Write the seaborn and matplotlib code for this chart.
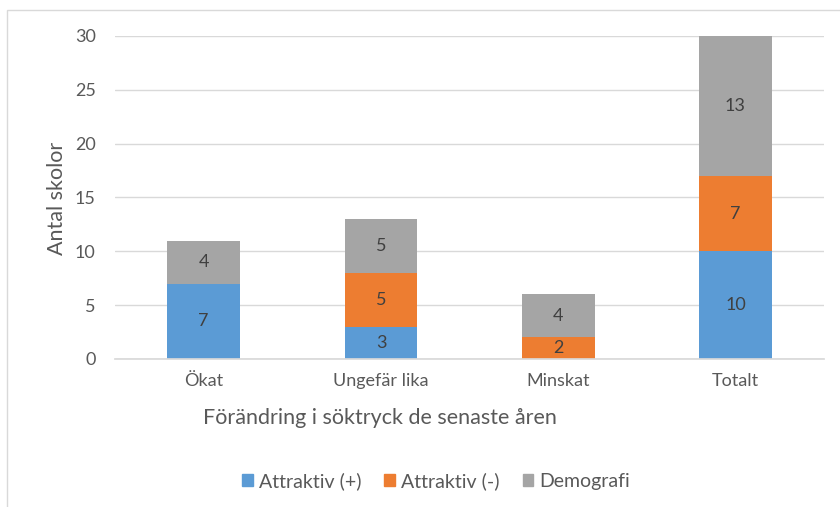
import numpy as np
import pandas as pd
import matplotlib.pyplot as plt
import seaborn as sns
from matplotlib.patches import Rectangle

# data
categories = ['Ökat', 'Ungefär lika', 'Minskat', 'Totalt']
attr_plus = [7, 3, 0, 10]
attr_minus = [0, 5, 2, 7]
demografi = [4, 5, 4, 13]
series_names = ['Attraktiv (+)', 'Attraktiv (-)', 'Demografi']
colors = ['#5B9BD5', '#ED7D31', '#A5A5A5']

sns.set_theme(style='white')
plt.rcParams['font.family'] = ['Lato', 'DejaVu Sans']
text_col = '#595959'

fig = plt.figure(figsize=(8.4, 5.07), dpi=100)
ax = fig.add_axes([0.137, 0.292, 0.844, 0.637])

# stacked via cumulative overlays
plus = np.array(attr_plus)
minus = np.array(attr_minus)
demo = np.array(demografi)
levels = [plus + minus + demo, plus + minus, plus]
for vals, col in zip(levels, colors[::-1]):
    df = pd.DataFrame({'cat': categories, 'val': vals})
    sns.barplot(data=df, x='cat', y='val', color=col, width=0.41,
                saturation=1, ax=ax, edgecolor='none')

# segment labels
bottoms = np.zeros(len(categories))
for vals in [plus, minus, demo]:
    for i, v in enumerate(vals):
        if v > 0:
            ax.text(i, bottoms[i] + v / 2, str(v), ha='center', va='center',
                    fontsize=13, color='#404040')
    bottoms = bottoms + vals

ax.set_ylim(0, 30)
ax.set_xlim(-0.5, len(categories) - 0.5)
ax.set_yticks(range(0, 31, 5))
ax.yaxis.grid(True, color='#D9D9D9', linewidth=1)
ax.set_axisbelow(True)
for s in ['top', 'right', 'left']:
    ax.spines[s].set_visible(False)
ax.spines['bottom'].set_color('#D9D9D9')
ax.tick_params(axis='both', length=0, labelsize=13, colors=text_col, pad=10)
ax.tick_params(axis='y', pad=14)
ax.set_xlabel('')
ax.set_ylabel('')

fig.text(57 / 840, 1 - 198 / 507, 'Antal skolor', rotation=90, ha='center',
         va='center', fontsize=15.5, color=text_col)
fig.text(380 / 840, 1 - 418 / 507, 'Förändring i söktryck de senaste åren',
         ha='center', va='center', fontsize=15.5, color=text_col)

handles = [plt.Rectangle((0, 0), 1, 1, color=c) for c in colors]
fig.legend(handles, series_names, loc='center', bbox_to_anchor=(436 / 840, 1 - 481 / 507),
           ncol=3, frameon=False, fontsize=14, labelcolor=text_col,
           handlelength=0.55, handleheight=0.55, handletextpad=0.3, columnspacing=1.2)

# chart frame
fig.add_artist(Rectangle((7 / 840, -0.1), 2, 1 - 10 / 507 + 0.1, fill=False,
                         edgecolor='#D9D9D9', linewidth=1, transform=fig.transFigure))

fig.savefig('out.png', dpi=100)
